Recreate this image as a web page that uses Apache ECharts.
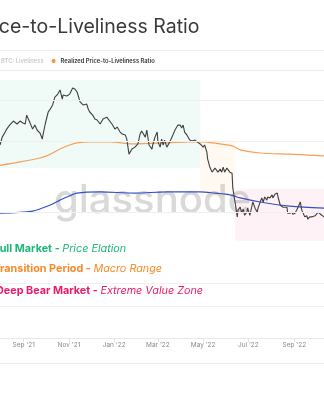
<!DOCTYPE html>
<html><head><meta charset="utf-8">
<script src="https://cdn.jsdelivr.net/npm/echarts@6/dist/echarts.min.js"></script>
<style>html,body{margin:0;padding:0;background:#fff}#c{width:324px;height:400px}</style>
</head><body><div id="c"></div>
<script>
// BTC price (black line), USD, log scale
const priceDates = ['2021-07-31','2021-08-03','2021-08-07','2021-08-09','2021-08-13','2021-08-18','2021-08-23','2021-08-27','2021-08-31','2021-09-03','2021-09-05','2021-09-09','2021-09-13','2021-09-16','2021-09-19','2021-09-23','2021-09-26','2021-09-27','2021-09-30','2021-10-02','2021-10-04','2021-10-06','2021-10-10','2021-10-13','2021-10-17','2021-10-20','2021-10-23','2021-10-24','2021-10-29','2021-11-02','2021-11-06','2021-11-09','2021-11-12','2021-11-16','2021-11-20','2021-11-25','2021-11-27','2021-11-29','2021-12-03','2021-12-06','2021-12-09','2021-12-13','2021-12-17','2021-12-22','2021-12-24','2021-12-29','2022-01-02','2022-01-05','2022-01-09','2022-01-12','2022-01-16','2022-01-18','2022-01-21','2022-01-25','2022-01-29','2022-02-02','2022-02-05','2022-02-07','2022-02-12','2022-02-14','2022-02-17','2022-02-21','2022-02-22','2022-02-25','2022-02-28','2022-03-01','2022-03-04','2022-03-06','2022-03-08','2022-03-10','2022-03-13','2022-03-17','2022-03-20','2022-03-24','2022-03-28','2022-03-31','2022-04-02','2022-04-04','2022-04-06','2022-04-09','2022-04-13','2022-04-16','2022-04-20','2022-04-23','2022-04-27','2022-04-29','2022-05-01','2022-05-03','2022-05-06','2022-05-07','2022-05-10','2022-05-13','2022-05-17','2022-05-21','2022-05-24','2022-05-26','2022-05-28','2022-05-30','2022-06-02','2022-06-03','2022-06-06','2022-06-09','2022-06-10','2022-06-13','2022-06-16','2022-06-17','2022-06-20','2022-06-22','2022-06-24','2022-06-26','2022-06-29','2022-06-30','2022-07-03','2022-07-06','2022-07-07','2022-07-10','2022-07-13','2022-07-14','2022-07-17','2022-07-19','2022-07-21','2022-07-23','2022-07-26','2022-07-27','2022-07-30','2022-08-02','2022-08-03','2022-08-06','2022-08-09','2022-08-10','2022-08-13','2022-08-15','2022-08-17','2022-08-19','2022-08-22','2022-08-23','2022-08-26','2022-08-29','2022-08-30','2022-09-02','2022-09-04','2022-09-06','2022-09-09','2022-09-11','2022-09-13','2022-09-15','2022-09-18','2022-09-19','2022-09-22','2022-09-25','2022-09-26','2022-09-29','2022-10-01','2022-10-03','2022-10-05','2022-10-08','2022-10-11'];
const btcPrice = [38700,41800,43900,45200,47000,48900,47500,48900,48000,47500,51800,48400,45200,47000,44800,43500,41000,42700,47500,48400,53400,54500,57200,61800,63600,66200,60600,63000,62400,63600,67500,66800,64900,58900,57200,57700,55000,53400,51800,49900,49400,47500,49900,50800,51800,47500,45200,46100,43900,43100,42700,41000,35400,37200,37900,39100,43100,44400,41800,44800,38700,37200,38700,41800,43900,39900,37900,41000,38700,40600,37900,39900,41800,44800,47000,47000,45700,47000,43900,42700,40600,40200,40600,39900,39100,39500,37900,38700,36100,33800,31200,29700,30900,29700,30600,29700,31200,29700,30900,31200,29700,29400,25400,22200,19200,20500,21100,19900,20700,19500,20100,20900,19500,21500,22200,20900,20100,20900,22200,23100,22200,23300,22600,23300,23100,23800,23100,24000,24200,23300,21500,21300,21100,21300,21100,19900,19900,20100,19700,19900,20500,21100,22200,20500,19900,19200,19400,18800,19200,19200,19500,19400,19500,20100,19900,19500,19200];

// Realized Price-to-Liveliness Ratio (orange)
const ratioDates = ['2021-07-31','2021-08-27','2021-09-23','2021-10-02','2021-10-20','2021-11-02','2021-11-12','2021-11-29','2021-12-26','2022-01-26','2022-03-13','2022-04-13','2022-05-03','2022-05-14','2022-06-10','2022-06-20','2022-07-17','2022-08-26','2022-10-11'];
const ratioValues = [31700,32800,34100,34800,37200,38700,39500,39900,39900,39100,39500,39900,39900,39500,38300,36900,35800,35400,34800];

// Realized price (blue)
const realizedDates = ['2021-07-31','2021-09-13','2021-10-06','2021-10-20','2021-10-29','2021-11-12','2021-12-13','2022-01-29','2022-03-13','2022-04-27','2022-05-17','2022-06-06','2022-06-20','2022-07-17','2022-08-26','2022-10-11'];
const realizedValues = [19900,20300,21500,22600,23300,24200,24500,24200,24500,24500,24200,23800,23100,22200,21300,20900];

// Zones: [startDate, endDate, lowValue, highValue]
const zoneBull = ['2021-07-31','2022-04-27',30900,73000];
const zoneTransition = ['2022-04-27','2022-06-13',23300,40600];
const zoneBear = ['2022-06-13','2022-10-11',15200,25200];

const tickDates = ['2021-09-01','2021-11-01','2022-01-01','2022-03-01','2022-05-01','2022-07-01','2022-09-01'];
const gridValues = [60000,40000,20000,10000,8000];
const monthNames = ['Jan','Feb','Mar','Apr','May','Jun','Jul','Aug','Sep','Oct','Nov','Dec'];

const ts = s => { const p = s.split('-').map(Number); return new Date(p[0], p[1] - 1, p[2]).getTime(); };
const zip = (a, b) => a.map((d, i) => [ts(d), b[i]]);
const tickTs = tickDates.map(ts);
const FONT = 'Inter, "Noto Sans", sans-serif';

const zoneData = (z, color) => [
  {xAxis: ts(z[0]), yAxis: z[2], itemStyle: {color: color}},
  {xAxis: ts(z[1]), yAxis: z[3]}
];
const annot = (b, i, color) => ({
  text: '{b|' + b + ' - }{i|' + i + '}', verticalAlign: 'middle',
  rich: {
    b: {fontSize: 10.8, fontWeight: 'bold', fill: color, fontFamily: FONT},
    i: {fontSize: 10.8, fontStyle: 'italic', fill: color, fontFamily: FONT}
  }
});

const chart = echarts.init(document.getElementById('c'), null, {renderer: 'canvas'});
chart.setOption({
  animation: false,
  backgroundColor: '#fff',
  title: {
    text: 'Price-to-Liveliness Ratio',
    left: -31, top: 12, padding: 5,
    textStyle: {fontSize: 19.5, fontWeight: 'normal', color: '#3a3a3a', fontFamily: FONT}
  },
  legend: {
    left: -13, top: 53,
    icon: 'circle', itemWidth: 4, itemHeight: 4, itemGap: 8,
    inactiveColor: '#c8c8c8',
    textStyle: {fontSize: 5.8, color: '#333', fontWeight: 600, fontFamily: FONT},
    data: ['BTC: Liveliness', 'Realized Price-to-Liveliness Ratio'],
    selected: {'BTC: Liveliness': false}
  },
  grid: {left: 0, right: 0, top: 80, bottom: 62, containLabel: false},
  xAxis: {
    type: 'value',
    min: ts('2021-07-31'),
    max: ts('2022-10-11'),
    axisLine: {show: true, onZero: false, lineStyle: {color: '#e8e8e8'}},
    axisTick: {show: true, customValues: tickTs, length: 4, lineStyle: {color: '#e4e4e4'}},
    axisLabel: {
      customValues: tickTs, margin: 4, fontSize: 6.5, color: '#8a8a8a', fontFamily: FONT,
      formatter: v => { const d = new Date(v); return monthNames[d.getMonth()] + " '" + String(d.getFullYear()).slice(2); }
    },
    splitLine: {show: false}
  },
  yAxis: {
    type: 'log', logBase: 10, min: 5888, max: 72970,
    axisLine: {show: false}, axisTick: {show: false}, axisLabel: {show: false}, splitLine: {show: false}
  },
  graphic: [
    {type: 'line', shape: {x1: 0, y1: 50.5, x2: 324, y2: 50.5}, style: {stroke: '#ececec', lineWidth: 1}},
    {type: 'line', shape: {x1: 0, y1: 70.5, x2: 324, y2: 70.5}, style: {stroke: '#ececec', lineWidth: 1}},
    {type: 'line', shape: {x1: 0, y1: 363.5, x2: 324, y2: 363.5}, style: {stroke: '#ececec', lineWidth: 1}},
    {type: 'text', x: 54, y: 201, z: -1, style: {text: 'glassnode', fill: '#d9d9d9', font: '500 40px Inter, sans-serif', verticalAlign: 'middle'}},
    {type: 'text', x: -7.5, y: 249, z: 10, style: annot('Bull Market', 'Price Elation', '#1db87a')},
    {type: 'text', x: -6.5, y: 269, z: 10, style: annot('Transition Period', 'Macro Range', '#f98a2a')},
    {type: 'text', x: -4, y: 291, z: 10, style: annot('Deep Bear Market', 'Extreme Value Zone', '#ee1a68')}
  ],
  series: [
    {
      name: 'BTC: Liveliness', type: 'line', data: [], color: '#888', showSymbol: false
    },
    {
      name: 'Realized Price', type: 'line', data: zip(realizedDates, realizedValues),
      showSymbol: false, smooth: 0.3, color: '#3450c8', lineStyle: {width: 1.2}, z: 3,
      markLine: {
        silent: true, symbol: ['none', 'none'], label: {show: false},
        lineStyle: {color: '#f0f0f0', width: 1, type: 'solid'},
        data: gridValues.map(v => ({yAxis: v}))
      }
    },
    {
      name: 'Realized Price-to-Liveliness Ratio', type: 'line', data: zip(ratioDates, ratioValues),
      showSymbol: false, smooth: 0.3, color: '#f7932a', lineStyle: {width: 1.2, color: '#f5a05a'}, z: 3
    },
    {
      name: 'BTC: Price', type: 'line', data: zip(priceDates, btcPrice),
      showSymbol: false, color: '#3a3a3a', lineStyle: {width: 1.1, color: '#404040'}, z: 4,
      markArea: {
        silent: true,
        data: [
          zoneData(zoneBull, 'rgba(40,190,130,0.07)'),
          zoneData(zoneTransition, 'rgba(247,147,26,0.06)'),
          zoneData(zoneBear, 'rgba(240,30,100,0.06)')
        ]
      }
    }
  ]
});
</script></body></html>
